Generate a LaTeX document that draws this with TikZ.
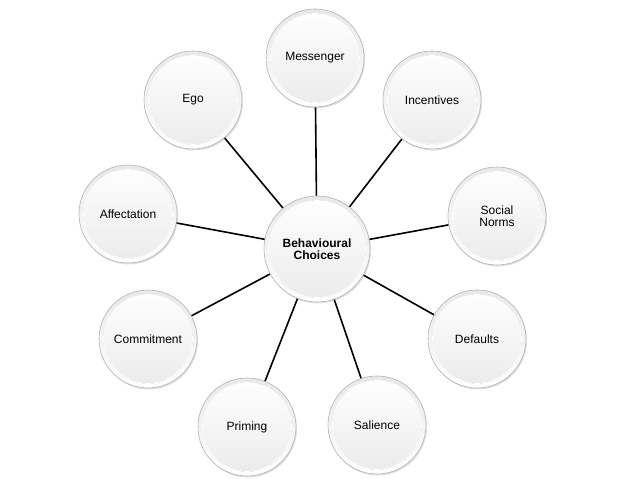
\documentclass[tikz,border=0pt]{standalone}
\usepackage{fontspec}
\setmainfont{Liberation Sans}
\usetikzlibrary{shadows,backgrounds}
\tikzset{
  bubble/.style={circle, minimum size=#1, inner sep=0pt, draw=gray!60, line width=0.6pt,
    top color=gray!18, bottom color=white, align=center,
    font=\fontsize{12}{12.5}\selectfont,
    drop shadow={shadow xshift=1pt, shadow yshift=-1.5pt, opacity=0.25},
    path picture={\fill[top color=white, bottom color=gray!16, draw=white, line width=0.8pt]
      (path picture bounding box.center) circle ({#1/2-4.5pt});}},
  bubble/.default=98pt,
  spoke/.style={line width=1.6pt, black}
}
\begin{document}
\begin{tikzpicture}[x=1pt,y=1pt]
\useasboundingbox (0,0) rectangle (638,479);
\node[bubble=106pt] (c) at (317,230) {\textbf{Behavioural}\\\textbf{Choices}};
\node[bubble] (mes) at (315,421) {Messenger};
\node[bubble] (inc) at (432,379) {Incentives};
\node[bubble] (soc) at (497,263) {Social\\Norms};
\node[bubble] (def) at (477,140) {Defaults};
\node[bubble] (sal) at (377,54) {Salience};
\node[bubble] (pri) at (247,52) {Priming};
\node[bubble] (com) at (148,140) {Commitment};
\node[bubble] (aff) at (128,265) {Affectation};
\node[bubble] (ego) at (193,379) {Ego};
\begin{scope}[on background layer]
\foreach \n in {mes,inc,soc,def,sal,pri,com,aff,ego}
  \draw[spoke] (c.center) -- (\n.center);
\end{scope}
\end{tikzpicture}
\end{document}
